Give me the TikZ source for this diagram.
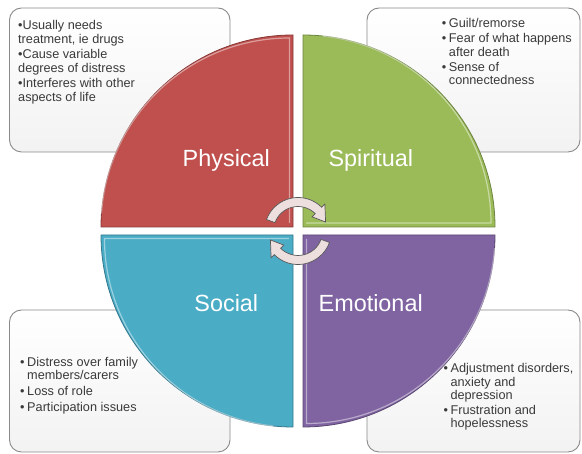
\documentclass[tikz,border=0pt]{standalone}
\usepackage{fontspec}
\setmainfont{Liberation Sans}
\usepackage{xcolor}
\usepackage{tikz}

\definecolor{physred}{HTML}{C0504D}
\definecolor{spirgreen}{HTML}{9BBB59}
\definecolor{socblue}{HTML}{4BACC6}
\definecolor{emopurple}{HTML}{8064A2}
\definecolor{boxline}{HTML}{8A8A8A}
\definecolor{boxink}{HTML}{3A3A3A}
\definecolor{arrowpink}{HTML}{EEDFDF}

\tikzset{
  infobox/.style={draw=boxline, line width=0.9pt, rounded corners=12pt, top color=white, bottom color=black!5, inner sep=0pt},
  boxtext/.style={font=\fontsize{12.7}{13.5}\selectfont, text=boxink, inner sep=0pt, anchor=base west},
  quadlabel/.style={font=\fontsize{23.4}{28}\selectfont, text=white, inner sep=0pt, anchor=base},
  quadrant/.style={line width=0.8pt},
  glint/.style={draw=white, opacity=0.45, line width=1.2pt},
  cyclearrow/.style={draw=black!65, line width=0.7pt, fill=arrowpink},
}

\begin{document}
\begin{tikzpicture}[x=1pt, y=1pt]
            \useasboundingbox (0,0) rectangle (582,454);
            \fill[white] (0,0) rectangle (582,454);

            % Text boxes behind the circle
            \node[infobox, minimum width=220.5pt, minimum height=144pt] (physbox) at (119.75, 374) {};
            \node[infobox, minimum width=213pt, minimum height=144pt] (spirbox) at (473.5, 374) {};
            \node[infobox, minimum width=220.5pt, minimum height=142pt] (socbox) at (119.75, 73) {};
            \node[infobox, minimum width=213pt, minimum height=142pt] (emobox) at (473.5, 73) {};

            % Box texts
            \node[boxtext, font=\fontsize{12.7}{14.4}\selectfont] (phystxt) at (18, 424.5) {\begin{tabular}[t]{@{}l@{}}
              •Usually needs\\ treatment, ie drugs\\ •Cause variable\\ degrees of distress\\
              •Interferes with other\\ aspects of life\end{tabular}};
            \node[boxtext] (spirtxt) at (441.7, 426.2) {\begin{tabular}[t]{@{}l@{\hspace{2.6pt}}l@{}}
              • & Guilt/remorse\\[1.5pt] • & Fear of what happens\\ & after death\\[1.5pt]
              • & Sense of\\ & connectedness\end{tabular}};
            \node[boxtext] (soctxt) at (20, 87.8) {\begin{tabular}[t]{@{}l@{\hspace{2.6pt}}l@{}}
              • & Distress over family\\ & members/carers\\[2.2pt] • & Loss of role\\[2.2pt]
              • & Participation issues\end{tabular}};
            \node[boxtext] (emotxt) at (443.3, 81.2) {\begin{tabular}[t]{@{}l@{\hspace{2.6pt}}l@{}}
              • & Adjustment disorders,\\ & anxiety and\\ & depression\\[1pt]
              • & Frustration and\\ & hopelessness\end{tabular}};

            % Four quadrants
            \draw[quadrant, fill=physred, draw=physred!70!black] (293,227) -- (101,227) arc[start angle=180, end angle=90, radius=192] -- cycle;
            \draw[quadrant, fill=spirgreen, draw=spirgreen!70!black] (303,227) -- (495,227) arc[start angle=0, end angle=90, radius=192] -- cycle;
            \draw[quadrant, fill=socblue, draw=socblue!70!black] (293,219) -- (101,219) arc[start angle=180, end angle=270, radius=192] -- cycle;
            \draw[quadrant, fill=emopurple, draw=emopurple!70!black] (303,219) -- (495,219) arc[start angle=0, end angle=-90, radius=192] -- cycle;

            % Light rims
            \draw[glint] (289.5,231) -- (289.5,416) arc[start angle=90, end angle=176, radius=188.5];
            \draw[glint] (306,231) -- (491,231) arc[start angle=0, end angle=84, radius=188];
            \draw[glint] (289,215.5) -- (104.5,215.5) arc[start angle=180, end angle=264, radius=188.5];
            \draw[glint] (306.5,215) -- (306.5,30.5) arc[start angle=270, end angle=356, radius=188.5];

            % Quadrant labels
            \node[quadlabel] (physical) at (226.3, 287.3) {Physical};
            \node[quadlabel] (spiritual) at (370.8, 287.3) {Spiritual};
            \node[quadlabel] (social) at (226.3, 142.3) {Social};
            \node[quadlabel] (emotional) at (370.7, 142.3) {Emotional};

            % Cycle arrows at the hub
            \coordinate (hub) at (298, 223);
            \begin{scope}[shift={(hub)}]
              \draw[cyclearrow] (160:33.5) arc[start angle=160, end angle=45, radius=33.5] -- (45:38) -- (18:29) -- (45:20) -- (45:24.5) arc[start angle=45, end angle=160, radius=24.5] -- cycle;
              \draw[cyclearrow] (-20:33.5) arc[start angle=-20, end angle=-135, radius=33.5] -- (-135:38) -- (-162:29) -- (-135:20) -- (-135:24.5) arc[start angle=-135, end angle=-20, radius=24.5] -- cycle;
            \end{scope}
\end{tikzpicture}
\end{document}
